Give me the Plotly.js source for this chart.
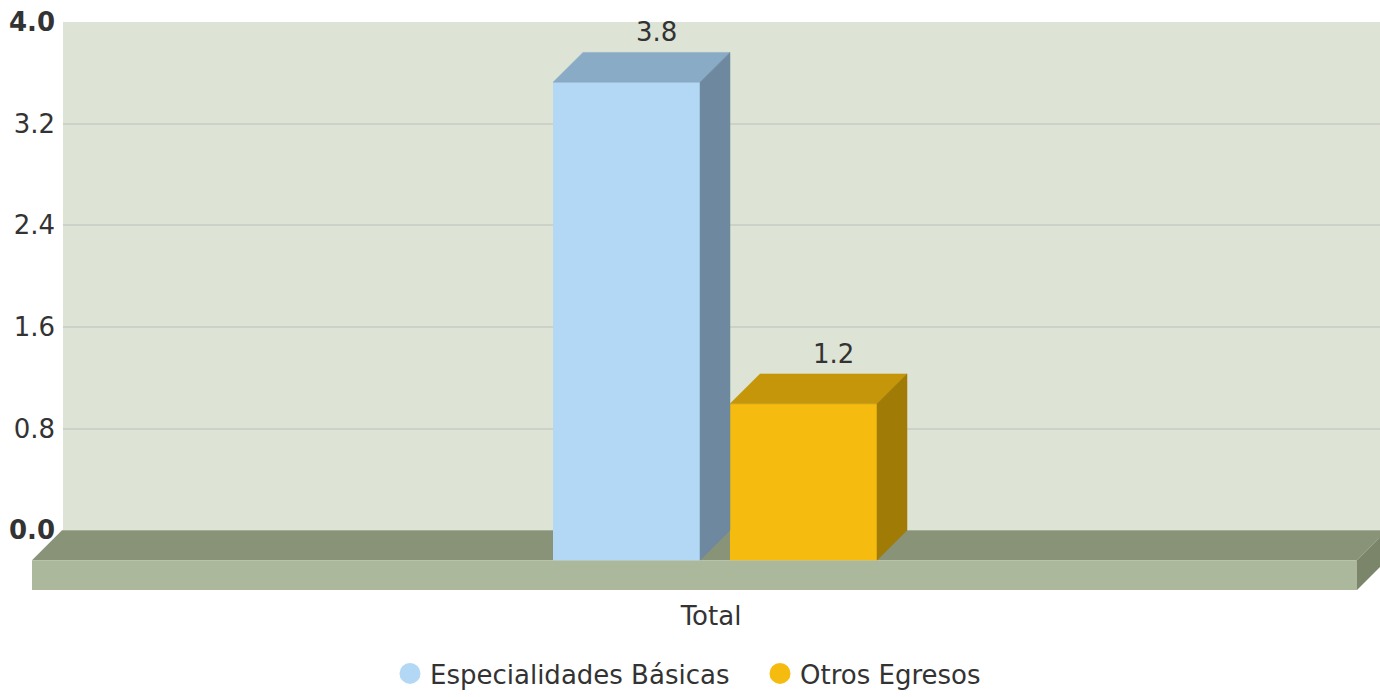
<!DOCTYPE html>
<html>
<head>
<meta charset="utf-8">
<script src="https://cdn.plot.ly/plotly-3.0.1.min.js"></script>
<style>
  html, body { margin: 0; padding: 0; background: #ffffff; }
  #chart { width: 1380px; height: 697px; }
</style>
</head>
<body>
<div id="chart"></div>
<script>
// ---------------- data ----------------
const categories = ['Total'];
const seriesNames = ['Especialidades Básicas', 'Otros Egresos'];
const especialidadesBasicas = [3.76];
const otrosEgresos = [1.23];
const yTickValues = [0, 0.8, 1.6, 2.4, 3.2, 4.0];
const yTickLabels = ['0.0', '0.8', '1.6', '2.4', '3.2', '4.0'];

// ---------------- style / geometry ----------------
const W = 1380, H = 697;
const PLOT_LEFT = 63, PLOT_RIGHT = 1380, PLOT_TOP = 0, PLOT_BOTTOM = 600;
const ZERO_PX = 532, MAX_PX = 22;              // wall: value 0 and value 4 in pixels
const Y_MAX = 4.0;
const pxPerY = (ZERO_PX - MAX_PX) / Y_MAX;
const yRange = [(ZERO_PX - PLOT_BOTTOM) / pxPerY, (ZERO_PX - PLOT_TOP) / pxPerY];
const plotW = PLOT_RIGHT - PLOT_LEFT;
const plotH = PLOT_BOTTOM - PLOT_TOP;
const pxPerX = plotW;                          // one category unit = plot width
const CAT_CENTER_PX = 711;
const xRange = [-(CAT_CENTER_PX - PLOT_LEFT) / pxPerX, (PLOT_RIGHT - CAT_CENTER_PX) / pxPerX];

const DEPTH_PX = 30;
const dx = DEPTH_PX / pxPerX;
const dy = DEPTH_PX / pxPerY;
const barW = 147 / pxPerX;
const barOffsets = [-158 / pxPerX, 19 / pxPerX];

const colors = {
  wall: '#dde3d5', grid: '#cdd1c8',
  floorTop: '#889378', floorFront: '#abb89b', floorSide: '#7a8569',
  text: '#333333'
};
const seriesColors = [
  { front: '#b2d8f5', top: '#8aabc6', side: '#6e899f' },
  { front: '#f5bb0f', top: '#c5960a', side: '#a07b05' }
];
const FONT = 'DejaVu Sans, Verdana, sans-serif';
const FS = 26;

const seriesValues = [especialidadesBasicas, otrosEgresos];
const catPos = categories.map((c, i) => i);

const traces = [];
const annotations = [];

seriesValues.forEach((vals, s) => {
  const col = seriesColors[s];
  const off = barOffsets[s];
  // front face
  traces.push({
    type: 'bar', x: catPos, y: vals, base: vals.map(() => -dy),
    width: vals.map(() => barW), offset: vals.map(() => off),
    marker: { color: col.front, line: { width: 0 } },
    name: seriesNames[s], showlegend: false, hoverinfo: 'skip'
  });
  vals.forEach((v, i) => {
    const x0 = catPos[i] + off, x1 = x0 + barW;
    // top face
    traces.push({
      type: 'scatter', mode: 'lines', fill: 'toself', fillcolor: col.top,
      line: { color: col.top, width: 0.5 },
      x: [x0, x1, x1 + dx, x0 + dx, x0], y: [v - dy, v - dy, v, v, v - dy],
      showlegend: false, hoverinfo: 'skip'
    });
    // side face
    traces.push({
      type: 'scatter', mode: 'lines', fill: 'toself', fillcolor: col.side,
      line: { color: col.side, width: 0.5 },
      x: [x1, x1, x1 + dx, x1 + dx, x1], y: [-dy, v - dy, v, 0, -dy],
      showlegend: false, hoverinfo: 'skip'
    });
    // value label
    annotations.push({
      x: x0 + dx + barW / 2, y: v, xref: 'x', yref: 'y',
      text: v.toFixed(1), showarrow: false, yanchor: 'bottom', yshift: 3,
      font: { family: FONT, size: FS, color: colors.text }
    });
  });
});

// legend entries (one legend box per series, to place them like the original)
const legendIds = ['legend', 'legend2'];
seriesNames.forEach((n, s) => {
  traces.push({
    type: 'scatter', mode: 'markers', x: [null], y: [null], name: n,
    legend: legendIds[s],
    marker: { symbol: 'circle', size: 16, color: seriesColors[s].front,
              line: { color: seriesColors[s].front, width: 5 } },
    hoverinfo: 'skip'
  });
});

// floor geometry (paper x)
const floorFrontL = (32 - PLOT_LEFT) / plotW;
const floorFrontR = (1357 - PLOT_LEFT) / plotW;
const floorDx = DEPTH_PX / plotW;

const shapes = [
  // back wall
  { type: 'rect', xref: 'paper', yref: 'y', x0: 0, x1: 1, y0: 0, y1: Y_MAX,
    fillcolor: colors.wall, line: { width: 0 }, layer: 'below' },
  // floor top
  { type: 'path', xref: 'paper', yref: 'y', layer: 'between',
    path: `M ${floorFrontL} ${-dy} L ${floorFrontL + floorDx} 0 L ${floorFrontR + floorDx} 0 L ${floorFrontR} ${-dy} Z`,
    fillcolor: colors.floorTop, line: { width: 0 } },
  // floor front
  { type: 'rect', xref: 'paper', yref: 'y', layer: 'between',
    x0: floorFrontL, x1: floorFrontR, y0: -2 * dy, y1: -dy,
    fillcolor: colors.floorFront, line: { width: 0 } },
  // floor side
  { type: 'path', xref: 'paper', yref: 'y', layer: 'between',
    path: `M ${floorFrontR} ${-dy} L ${floorFrontR + floorDx} 0 L ${floorFrontR + floorDx} ${-dy} L ${floorFrontR} ${-2 * dy} Z`,
    fillcolor: colors.floorSide, line: { width: 0 } }
];

const legendY = -(676 - PLOT_BOTTOM) / plotH;
const legendBase = {
  orientation: 'h', xanchor: 'left', y: legendY, yanchor: 'middle',
  font: { family: FONT, size: FS, color: colors.text },
  bgcolor: 'rgba(0,0,0,0)', borderwidth: 0
};

const layout = {
  width: W, height: H,
  margin: { l: PLOT_LEFT, r: W - PLOT_RIGHT, t: PLOT_TOP, b: H - PLOT_BOTTOM, pad: 0 },
  paper_bgcolor: '#ffffff', plot_bgcolor: 'rgba(0,0,0,0)',
  barmode: 'overlay',
  font: { family: FONT, size: FS, color: colors.text },
  xaxis: {
    type: 'linear', range: xRange, fixedrange: true,
    tickvals: catPos, ticktext: categories,
    showgrid: false, zeroline: false, showline: false, ticks: '',
    tickfont: { family: FONT, size: FS, color: colors.text }
  },
  yaxis: {
    range: yRange, fixedrange: true,
    tickvals: yTickValues,
    ticktext: yTickLabels.map((t, i) => (i === 0 || i === yTickLabels.length - 1) ? '<b>' + t + '</b>' : t),
    showgrid: false, zeroline: false, showline: false, ticks: '', ticklabelstandoff: 7,
    tickfont: { family: FONT, size: FS, color: colors.text }
  },
  yaxis2: {
    overlaying: 'y', range: yRange, fixedrange: true,
    tickvals: yTickValues.slice(1, -1), showticklabels: false,
    showgrid: true, gridcolor: colors.grid, gridwidth: 2,
    zeroline: false, showline: false, ticks: ''
  },
  showlegend: true,
  legend: Object.assign({}, legendBase, { x: (390 - PLOT_LEFT) / plotW }),
  legend2: Object.assign({}, legendBase, { x: (760 - PLOT_LEFT) / plotW }),
  shapes: shapes,
  annotations: annotations
};

// an empty trace on yaxis2 so its grid is drawn
traces.unshift({ type: 'scatter', mode: 'none', x: [null], y: [null], yaxis: 'y2', showlegend: false, hoverinfo: 'skip' });

Plotly.newPlot('chart', traces, layout, { displayModeBar: false, staticPlot: true });
</script>
</body>
</html>
